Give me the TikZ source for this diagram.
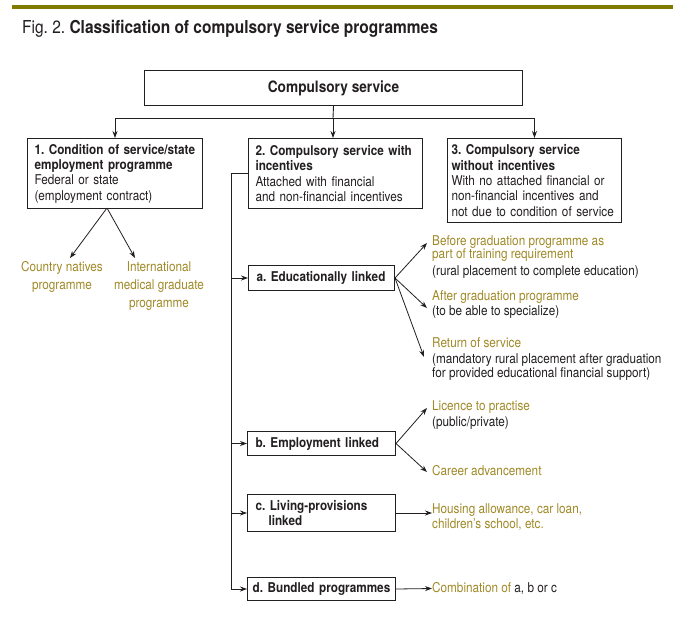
\documentclass[tikz,border=0pt]{standalone}
\usepackage{fontspec}
\setmainfont{TeX Gyre Heros}[FakeStretch=0.87]
\usetikzlibrary{arrows.meta}
\definecolor{gold}{HTML}{A08A28}
\definecolor{rulecol}{HTML}{807A00}
\definecolor{ink}{HTML}{231F20}
\frenchspacing
\hyphenpenalty=10000
\exhyphenpenalty=10000
\begin{document}
\begin{tikzpicture}[x=1pt,y=-1pt,
  box/.style={draw=ink, line width=1pt, inner xsep=7pt, inner ysep=0pt, align=left, anchor=north west, font=\fontsize{13.5}{15.3}\selectfont, text=ink},
  subbox/.style={draw=ink, line width=1pt, inner xsep=8pt, inner ysep=0pt, align=left, anchor=north west, font=\fontsize{13.5}{14.5}\selectfont\bfseries, text=ink},
  arr/.style={-{Stealth[length=7pt,width=5pt]}, line width=0.8pt, draw=ink},
  ln/.style={line width=0.9pt, draw=ink},
  txt/.style={inner sep=0pt, align=left, anchor=north west, font=\fontsize{13.5}{13.5}\selectfont, text=ink},
  gtxt/.style={inner sep=0pt, align=center, anchor=north, font=\fontsize{13.5}{18}\selectfont, text=gold}]
\useasboundingbox (0,0) rectangle (683,619);
\fill[white] (0,0) rectangle (683,619);
\fill[rulecol] (12,5) rectangle (673,9);
\node[anchor=base west, inner sep=0pt, font=\fontsize{17.8}{20}\selectfont, text=ink] (title) at (22,33) {Fig. 2. \textbf{Classification of compulsory service programmes}};

\node[draw=ink, line width=1pt, minimum width=378pt, minimum height=35pt, anchor=north west, inner sep=0pt, font=\fontsize{15.7}{17}\selectfont\bfseries, text=ink] (top) at (144,70) {Compulsory service};

\node[box, text width=161pt, minimum height=70pt] (b1) at (27,138) {\textbf{1. Condition of service/state}\\\textbf{employment programme}\\Federal or state\\(employment contract)};
\node[box, text width=160pt, minimum height=70pt] (b2) at (248,138) {\textbf{2. Compulsory service with}\\\textbf{incentives}\\Attached with financial\\and non-financial incentives};
\node[box, text width=166pt, inner xsep=4pt, minimum height=84pt] (b3) at (447,138) {\textbf{3. Compulsory service}\\\textbf{without incentives}\\With no attached financial or\\non-financial incentives and\\not due to condition of service};

\coordinate (j) at (333,118);
\draw[ln] (top.south) -- (j);
\draw[arr] (j) -| (b1.north);
\draw[arr] (j) -| (b3.north);
\draw[arr] (j) -- (j |- b2.north);

\coordinate (c1) at (70,258);
\coordinate (c2) at (135,258);
\coordinate (b1o) at (107,208);
\draw[arr] (b1o) -- (c1);
\draw[arr] (b1o) -- (c2);
\node[gtxt] (cn) at (62,261) {Country natives\\programme};
\node[gtxt] (img) at (159,261) {International\\medical graduate\\programme};

\node[subbox, text width=130pt, minimum height=25pt] (ea) at (248,265) {a. Educationally linked};
\node[subbox, text width=132pt, minimum height=24pt] (eb) at (247,431) {b. Employment linked};
\node[subbox, text width=132pt, minimum height=37pt] (ec) at (247,494) {c. Living-provisions\\\hspace*{13pt}linked};
\node[subbox, text width=138pt, inner xsep=5pt, minimum height=23pt, align=center] (ed) at (247,577) {d. Bundled programmes};

\coordinate (sp) at (231,0);
\draw[arr] (b2.west) -| (sp |- ed.west) -- (ed.west);
\draw[arr] (sp |- ea.west) -- (ea.west);
\draw[arr] (sp |- eb.west) -- (eb.west);
\draw[arr] (sp |- ec.west) -- (ec.west);

\coordinate (a1) at (427,243);
\coordinate (a2) at (427,308);
\coordinate (a3) at (424,357);
\draw[arr] (ea.east) -- (a1);
\draw[arr] (ea.east) -- (a2);
\draw[arr] (ea.east) -- (a3);
\node[txt] (t1) at (432,235) {\textcolor{gold}{Before graduation programme as}\\\textcolor{gold}{part of training requirement}\\[3pt](rural placement to complete education)};
\node[txt] (t2) at (432,290) {\textcolor{gold}{After graduation programme}\\[2pt](to be able to specialize)};
\node[txt] (t3) at (432,337) {\textcolor{gold}{Return of service}\\[3pt](mandatory rural placement after graduation\\for provided educational financial support)};

\coordinate (e1) at (427,408);
\coordinate (e2) at (427,472);
\draw[arr] (eb.east) -- (e1);
\draw[arr] (eb.east) -- (e2);
\node[txt] (t4) at (432,400) {\textcolor{gold}{Licence to practise}\\[3pt](public/private)};
\node[txt] (t5) at (432,465) {\textcolor{gold}{Career advancement}};

\node[txt, text=gold] (t6) at (432,503) {Housing allowance, car loan,\\[2pt]children’s school, etc.};
\draw[arr] (ec.east) -- (ec.east -| t6.west);
\node[txt, anchor=west] (t7) at (432,588.5) {\textcolor{gold}{Combination of} a, b or c};
\draw[arr] (ed.east) -- (t7.west);
\end{tikzpicture}
\end{document}
